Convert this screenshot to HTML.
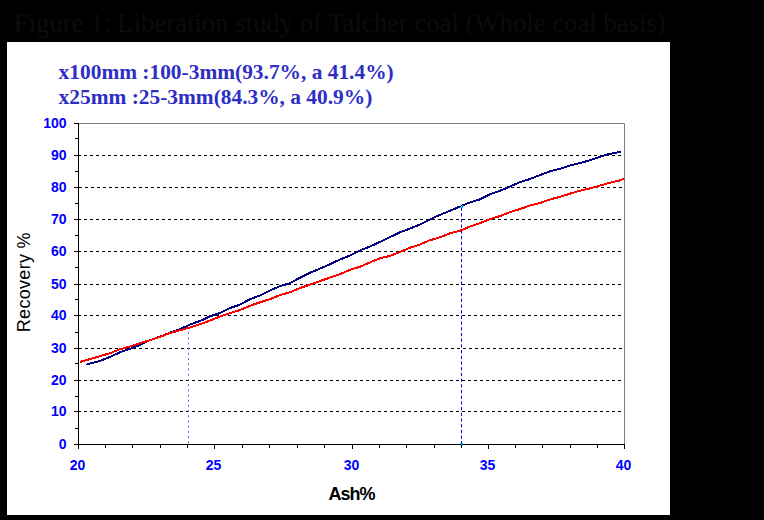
<!DOCTYPE html>
<html><head><meta charset="utf-8"><style>
html,body{margin:0;padding:0;background:#000;width:764px;height:520px;overflow:hidden}
svg{position:absolute;left:0;top:0}
.tl{font-family:"Liberation Sans",sans-serif;font-weight:bold;font-size:14px;fill:#0000ff}
.ax{font-family:"Liberation Sans",sans-serif;font-weight:bold;font-size:18px;fill:#000}
.yt{font-family:"Liberation Sans",sans-serif;font-size:18px;fill:#000}
.lg{font-family:"Liberation Serif",serif;font-weight:bold;font-size:21.4px;fill:#2e2ec4}
.ti{font-family:"Liberation Serif",serif;font-size:26.7px;fill:#0c0c0c}
</style></head><body>
<svg width="764" height="520" viewBox="0 0 764 520">
<rect x="0" y="0" width="764" height="520" fill="#000"/>
<rect x="7" y="42" width="663" height="473" fill="#fff"/>
<line x1="78" y1="411.5" x2="624" y2="411.5" stroke="#000" stroke-width="1" stroke-dasharray="3 3"/>
<line x1="78" y1="380.5" x2="624" y2="380.5" stroke="#000" stroke-width="1" stroke-dasharray="3 3"/>
<line x1="79" y1="348.5" x2="624" y2="348.5" stroke="#000" stroke-width="1" stroke-dasharray="3 3"/>
<line x1="78" y1="315.5" x2="624" y2="315.5" stroke="#000" stroke-width="1" stroke-dasharray="3 3"/>
<line x1="78" y1="284.5" x2="624" y2="284.5" stroke="#000" stroke-width="1" stroke-dasharray="3 3"/>
<line x1="78" y1="251.5" x2="624" y2="251.5" stroke="#000" stroke-width="1" stroke-dasharray="3 3"/>
<line x1="78" y1="219.5" x2="624" y2="219.5" stroke="#000" stroke-width="1" stroke-dasharray="3 3"/>
<line x1="79" y1="187.5" x2="624" y2="187.5" stroke="#000" stroke-width="1" stroke-dasharray="3 3"/>
<line x1="78" y1="155.5" x2="624" y2="155.5" stroke="#000" stroke-width="1" stroke-dasharray="3 3"/>
<line x1="74" y1="444.5" x2="78" y2="444.5" stroke="#000" stroke-width="1"/>
<line x1="74" y1="411.5" x2="78" y2="411.5" stroke="#000" stroke-width="1"/>
<line x1="74" y1="380.5" x2="78" y2="380.5" stroke="#000" stroke-width="1"/>
<line x1="74" y1="348.5" x2="78" y2="348.5" stroke="#000" stroke-width="1"/>
<line x1="74" y1="315.5" x2="78" y2="315.5" stroke="#000" stroke-width="1"/>
<line x1="74" y1="284.5" x2="78" y2="284.5" stroke="#000" stroke-width="1"/>
<line x1="74" y1="251.5" x2="78" y2="251.5" stroke="#000" stroke-width="1"/>
<line x1="74" y1="219.5" x2="78" y2="219.5" stroke="#000" stroke-width="1"/>
<line x1="74" y1="187.5" x2="78" y2="187.5" stroke="#000" stroke-width="1"/>
<line x1="74" y1="155.5" x2="78" y2="155.5" stroke="#000" stroke-width="1"/>
<line x1="74" y1="123.5" x2="78" y2="123.5" stroke="#000" stroke-width="1"/>
<line x1="75" y1="428.5" x2="78" y2="428.5" stroke="#000" stroke-width="1"/>
<line x1="75" y1="396.5" x2="78" y2="396.5" stroke="#000" stroke-width="1"/>
<line x1="75" y1="363.5" x2="78" y2="363.5" stroke="#000" stroke-width="1"/>
<line x1="75" y1="332.5" x2="78" y2="332.5" stroke="#000" stroke-width="1"/>
<line x1="75" y1="299.5" x2="78" y2="299.5" stroke="#000" stroke-width="1"/>
<line x1="75" y1="267.5" x2="78" y2="267.5" stroke="#000" stroke-width="1"/>
<line x1="75" y1="235.5" x2="78" y2="235.5" stroke="#000" stroke-width="1"/>
<line x1="75" y1="203.5" x2="78" y2="203.5" stroke="#000" stroke-width="1"/>
<line x1="75" y1="171.5" x2="78" y2="171.5" stroke="#000" stroke-width="1"/>
<line x1="75" y1="138.5" x2="78" y2="138.5" stroke="#000" stroke-width="1"/>
<line x1="78.5" y1="444" x2="78.5" y2="449" stroke="#000" stroke-width="1"/>
<line x1="105.5" y1="444" x2="105.5" y2="448" stroke="#000" stroke-width="1"/>
<line x1="132.5" y1="444" x2="132.5" y2="448" stroke="#000" stroke-width="1"/>
<line x1="160.5" y1="444" x2="160.5" y2="448" stroke="#000" stroke-width="1"/>
<line x1="187.5" y1="444" x2="187.5" y2="448" stroke="#000" stroke-width="1"/>
<line x1="214.5" y1="444" x2="214.5" y2="449" stroke="#000" stroke-width="1"/>
<line x1="242.5" y1="444" x2="242.5" y2="448" stroke="#000" stroke-width="1"/>
<line x1="269.5" y1="444" x2="269.5" y2="448" stroke="#000" stroke-width="1"/>
<line x1="297.5" y1="444" x2="297.5" y2="448" stroke="#000" stroke-width="1"/>
<line x1="324.5" y1="444" x2="324.5" y2="448" stroke="#000" stroke-width="1"/>
<line x1="352.5" y1="444" x2="352.5" y2="449" stroke="#000" stroke-width="1"/>
<line x1="379.5" y1="444" x2="379.5" y2="448" stroke="#000" stroke-width="1"/>
<line x1="406.5" y1="444" x2="406.5" y2="448" stroke="#000" stroke-width="1"/>
<line x1="434.5" y1="444" x2="434.5" y2="448" stroke="#000" stroke-width="1"/>
<line x1="461.5" y1="444" x2="461.5" y2="448" stroke="#000" stroke-width="1"/>
<line x1="488.5" y1="444" x2="488.5" y2="449" stroke="#000" stroke-width="1"/>
<line x1="515.5" y1="444" x2="515.5" y2="448" stroke="#000" stroke-width="1"/>
<line x1="542.5" y1="444" x2="542.5" y2="448" stroke="#000" stroke-width="1"/>
<line x1="570.5" y1="444" x2="570.5" y2="448" stroke="#000" stroke-width="1"/>
<line x1="597.5" y1="444" x2="597.5" y2="448" stroke="#000" stroke-width="1"/>
<line x1="624.5" y1="444" x2="624.5" y2="449" stroke="#000" stroke-width="1"/>
<path d="M78.5,123.5 H624.5 V444" fill="none" stroke="#808080" stroke-width="1"/>
<line x1="188.5" y1="327" x2="188.5" y2="444" stroke="#3366ff" stroke-width="1" stroke-dasharray="1.8 3.4"/>
<line x1="461.5" y1="207.5" x2="461.5" y2="444" stroke="#0000ff" stroke-width="1" stroke-dasharray="3.3 2.4"/>
<polyline points="86.4,364.6 90.0,363.6 100.0,360.9 110.0,356.9 120.0,352.3 130.0,348.9 140.0,344.9 150.0,340.1 160.0,336.7 170.0,332.7 180.0,329.1 190.0,324.6 200.0,320.9 205.0,318.8 210.0,316.3 220.0,313.0 230.0,308.1 240.0,304.6 250.0,299.2 260.0,295.4 270.0,290.5 280.0,286.2 290.0,283.1 300.0,277.7 310.0,272.7 320.0,268.6 330.0,264.2 340.0,259.5 350.0,255.6 360.0,250.4 370.0,246.5 380.0,241.9 390.0,237.1 400.0,232.3 410.0,228.5 420.0,224.5 430.0,219.4 440.0,214.8 450.0,210.8 461.0,206.1 470.0,202.4 480.0,199.4 490.0,194.2 500.0,190.8 510.0,186.5 520.0,182.2 530.0,179.0 540.0,175.0 550.0,171.3 560.0,168.8 570.0,165.5 580.0,163.1 590.0,160.2 600.0,156.7 610.0,153.8 620.7,151.9" fill="none" stroke="#000080" stroke-width="2" stroke-linejoin="round" shape-rendering="crispEdges"/>
<polyline points="80.2,361.9 90.0,359.1 100.0,356.2 110.0,353.2 120.0,349.2 130.0,346.6 140.0,343.2 150.0,340.2 160.0,336.8 170.0,333.0 180.0,330.3 190.0,327.4 200.0,324.3 210.0,320.5 220.0,316.6 230.0,313.1 240.0,310.0 250.0,305.8 260.0,302.3 270.0,299.1 280.0,295.0 290.0,292.3 300.0,288.1 310.0,284.6 320.0,281.1 330.0,277.6 340.0,274.2 350.0,269.8 360.0,266.8 370.0,262.4 380.0,258.3 390.0,255.9 400.0,252.0 410.0,247.7 420.0,244.5 430.0,240.2 440.0,237.3 450.0,233.3 461.0,230.4 470.0,226.5 480.0,223.1 490.0,219.0 500.0,216.1 510.0,212.1 520.0,209.0 530.0,205.6 540.0,203.1 550.0,199.4 560.0,196.9 570.0,193.7 580.0,190.7 590.0,188.4 600.0,185.6 610.0,182.7 620.0,180.4 624.5,178.6" fill="none" stroke="#ff0000" stroke-width="2" stroke-linejoin="round" shape-rendering="crispEdges"/>
<line x1="78.5" y1="123" x2="78.5" y2="445" stroke="#000" stroke-width="1"/>
<line x1="74" y1="444.5" x2="625" y2="444.5" stroke="#000" stroke-width="1"/>
<rect x="460" y="205" width="1" height="1" fill="#00ffff"/>
<rect x="462" y="205" width="1" height="1" fill="#00ffff"/>
<rect x="461" y="206" width="1" height="1" fill="#00ffff"/>
<rect x="460" y="207" width="1" height="1" fill="#00ffff"/>
<rect x="462" y="207" width="1" height="1" fill="#00ffff"/>
<rect x="460" y="443" width="1" height="1" fill="#00ffff"/>
<rect x="462" y="443" width="1" height="1" fill="#00ffff"/>
<rect x="461" y="444" width="1" height="1" fill="#00ffff"/>
<rect x="460" y="445" width="1" height="1" fill="#00ffff"/>
<rect x="462" y="445" width="1" height="1" fill="#00ffff"/>
<text x="66.5" y="449" text-anchor="end" class="tl">0</text>
<text x="66.5" y="416" text-anchor="end" class="tl">10</text>
<text x="66.5" y="385" text-anchor="end" class="tl">20</text>
<text x="66.5" y="353" text-anchor="end" class="tl">30</text>
<text x="66.5" y="320" text-anchor="end" class="tl">40</text>
<text x="66.5" y="289" text-anchor="end" class="tl">50</text>
<text x="66.5" y="256" text-anchor="end" class="tl">60</text>
<text x="66.5" y="224" text-anchor="end" class="tl">70</text>
<text x="66.5" y="192" text-anchor="end" class="tl">80</text>
<text x="66.5" y="160" text-anchor="end" class="tl">90</text>
<text x="66.5" y="128" text-anchor="end" class="tl">100</text>
<text x="77.5" y="469.8" text-anchor="middle" class="tl">20</text>
<text x="213.5" y="469.8" text-anchor="middle" class="tl">25</text>
<text x="351.5" y="469.8" text-anchor="middle" class="tl">30</text>
<text x="487.5" y="469.8" text-anchor="middle" class="tl">35</text>
<text x="623.5" y="469.8" text-anchor="middle" class="tl">40</text>
<text x="351.5" y="499.8" text-anchor="middle" class="ax" letter-spacing="-1">Ash%</text>
<text transform="translate(30,332.2) rotate(-90)" x="0" y="0" class="yt" letter-spacing="0.3">Recovery %</text>
<text x="58.6" y="79" class="lg">x100mm :100-3mm(93.7%, a 41.4%)</text>
<text x="58.6" y="103.6" class="lg">x25mm :25-3mm(84.3%, a 40.9%)</text>
<text x="13.6" y="31.5" class="ti">Figure 1: Liberation study of Talcher coal (Whole coal basis)</text>
</svg>
</body></html>
